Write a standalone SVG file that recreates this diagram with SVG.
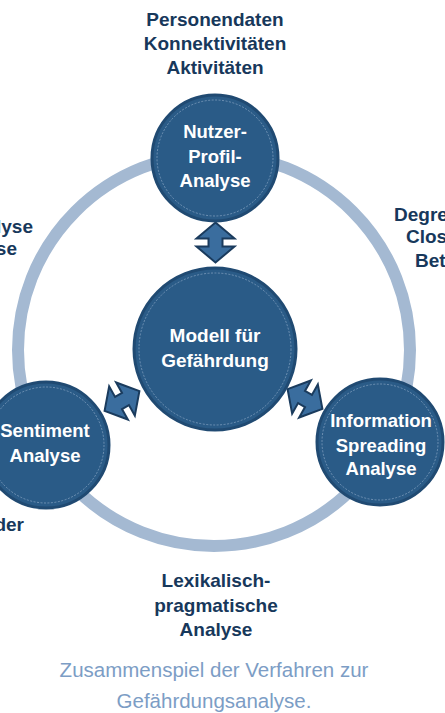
<svg xmlns="http://www.w3.org/2000/svg" width="445" height="713" viewBox="0 0 445 713">
<style>
.lbl{font-family:"Liberation Sans",Arial,sans-serif;font-weight:bold;font-size:19px;fill:#17385b;text-anchor:middle}
.in{font-family:"Liberation Sans",Arial,sans-serif;font-weight:bold;font-size:18.5px;fill:#ffffff;text-anchor:middle}
.cap{font-family:"Liberation Sans",Arial,sans-serif;font-size:20.5px;fill:#7c9dc5;text-anchor:middle}
.node{fill:#2a5b87;stroke:#204a72;stroke-width:3}
.inner{fill:none;stroke:#9fb8d3;stroke-width:0.7;stroke-dasharray:2 1.5;opacity:0.8}
.arr{fill:#3a6d9e;stroke:#1a3b5d;stroke-width:2;stroke-linejoin:miter}
</style>
<defs>
<path id="dblarrow" d="M0,-20 L19,-4 L7,-4 L7,4 L19,4 L0,20 L-19,4 L-7,4 L-7,-4 L-19,-4 Z"/>
</defs>
<rect width="445" height="713" fill="#ffffff"/>
<g id="ring">
<circle cx="214" cy="350" r="196" fill="none" stroke="#a4b9d2" stroke-width="12"/>
</g>
<g id="connectors">
<use href="#dblarrow" class="arr" transform="translate(215.5,242.5)"/>
<use href="#dblarrow" class="arr" transform="translate(122,401) rotate(60.5)"/>
<use href="#dblarrow" class="arr" transform="translate(305,399) rotate(-60.5)"/>
</g>
<g id="nutzer">
<circle cx="215" cy="158" r="63" class="node"/>
<circle cx="215" cy="158" r="58" class="inner"/>
<text class="in" x="215" y="138">Nutzer-</text>
<text class="in" x="215" y="163">Profil-</text>
<text class="in" x="215" y="187">Analyse</text>
</g>
<g id="modell">
<circle cx="215" cy="349" r="81" class="node"/>
<circle cx="215" cy="349" r="76" class="inner"/>
<text class="in" x="215" y="342" style="font-size:19px">Modell für</text>
<text class="in" x="215" y="367" style="font-size:19px">Gefährdung</text>
</g>
<g id="sentiment">
<circle cx="46" cy="445" r="63" class="node"/>
<circle cx="46" cy="445" r="58" class="inner"/>
<text class="in" x="45" y="437">Sentiment</text>
<text class="in" x="45" y="462">Analyse</text>
</g>
<g id="information">
<circle cx="380" cy="442" r="63" class="node"/>
<circle cx="380" cy="442" r="58" class="inner"/>
<text class="in" x="381" y="427">Information</text>
<text class="in" x="381" y="452">Spreading</text>
<text class="in" x="381" y="475">Analyse</text>
</g>
<g id="labels">
<text class="lbl" x="215" y="26">Personendaten</text>
<text class="lbl" x="215" y="50">Konnektivitäten</text>
<text class="lbl" x="215" y="74">Aktivitäten</text>
<text class="lbl" x="33" y="233" style="text-anchor:end">lyse</text>
<text class="lbl" x="17" y="255" style="text-anchor:end">se</text>
<text class="lbl" x="24" y="531" style="text-anchor:end">der</text>
<text class="lbl" x="394" y="221" style="text-anchor:start">Degre</text>
<text class="lbl" x="406" y="243" style="text-anchor:start">Clos</text>
<text class="lbl" x="415" y="267" style="text-anchor:start">Bet</text>
<text class="lbl" x="216" y="587">Lexikalisch-</text>
<text class="lbl" x="216" y="612">pragmatische</text>
<text class="lbl" x="216" y="636">Analyse</text>
</g>
<g id="caption">
<text class="cap" x="214" y="677">Zusammenspiel der Verfahren zur</text>
<text class="cap" x="214" y="708">Gefährdungsanalyse.</text>
</g>
</svg>
